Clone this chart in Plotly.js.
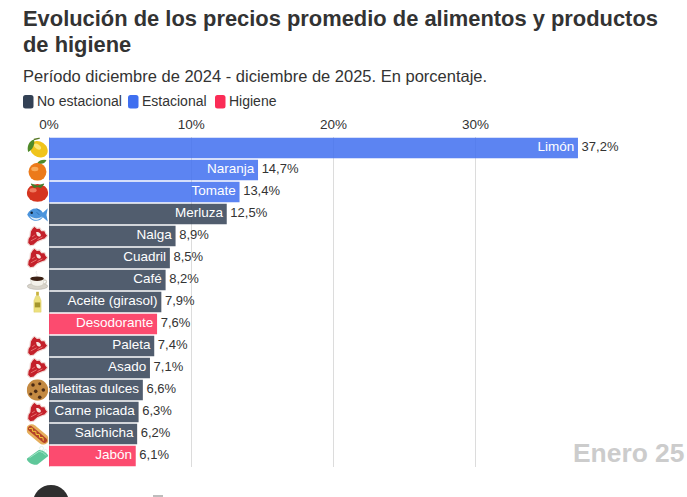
<!DOCTYPE html>
<html><head><meta charset="utf-8">
<script src="https://cdn.plot.ly/plotly-3.0.1.min.js"></script>
<style>html,body{margin:0;padding:0;background:#fff}#c{width:687px;height:497px}</style>
</head><body><div id="c"></div>
<script>
const products = ["Limón","Naranja","Tomate","Merluza","Nalga","Cuadril","Café","Aceite (girasol)","Desodorante","Paleta","Asado","Galletitas dulces","Carne picada","Salchicha","Jabón"];
const changes = [37.2,14.7,13.4,12.5,8.9,8.5,8.2,7.9,7.6,7.4,7.1,6.6,6.3,6.2,6.1];
const groups = ["Estacional","Estacional","Estacional","No estacional","No estacional","No estacional","No estacional","No estacional","Higiene","No estacional","No estacional","No estacional","No estacional","No estacional","Higiene"];
const icons = ["lemon","orange","tomato","fish","meat","meat","coffee","oil","","meat","meat","cookie","meat","hotdog","soap"];
const groupNames = ["No estacional","Estacional","Higiene"];
const groupColors = ["#334155","#3f6ff0","#fb2c56"];
const xTicks = [0,10,20,30];

const FONT = "'Liberation Sans', Arial, sans-serif";
const W=687,H=497,L=49,R=17,T=137,B=30;
const PW=W-L-R, PH=H-T-B;

const svgs = {
 lemon:'<ellipse cx="27" cy="27" rx="21" ry="17" fill="#f0c41c" transform="rotate(35 27 27)"/><ellipse cx="24" cy="21" rx="9" ry="5" fill="#fbe678" transform="rotate(35 24 21)"/><path d="M16 5C4 9 0 21 3 33C13 28 19 16 16 5Z" fill="#4f8a28"/><path d="M16 5L29 2" stroke="#5a7a28" stroke-width="3"/>',
 orange:'<circle cx="24" cy="28" r="20" fill="#ec7a1a"/><ellipse cx="18" cy="22" rx="8" ry="5" fill="#f8ab5a"/><path d="M24 8C28 2 36 0 44 2C40 10 32 12 24 8Z" fill="#4e8a2c"/>',
 tomato:'<ellipse cx="24" cy="26" rx="24" ry="20" fill="#d5341f"/><ellipse cx="14" cy="20" rx="8" ry="5" fill="#ee7b5f"/><path d="M10 6L24 11L38 6L32 14L24 12L16 14Z" fill="#3f7d2a" stroke="#3f7d2a" stroke-width="2"/>',
 fish:'<path d="M1 25C9 8 28 8 36 21L47 11L44 26L47 41L36 31C28 43 9 42 1 25Z" fill="#4b94dc"/><path d="M6 28C14 35 28 35 35 29C28 41 12 40 6 28Z" fill="#dcebf7"/><circle cx="11" cy="21" r="2.8" fill="#123"/><path d="M22 12L30 18M22 20L28 26" stroke="#2b6cb0" stroke-width="2"/>',
 meat:'<path d="M17 2L23 7L29 6L33 12L40 12L43 19L47 23L41 30L33 33L24 37L16 44L8 46L2 40L3 30L7 24L8 14L12 7Z" fill="#c4202a" stroke="#f1d9d5" stroke-width="2.5"/><path d="M21 15C27 14 33 19 31 24C27 27 21 24 21 15Z" fill="#f8e8e3"/><path d="M9 35L22 28M12 26L18 22M24 32L35 26" stroke="#e87a78" stroke-width="2"/>',
 coffee:'<ellipse cx="24" cy="38" rx="23" ry="7" fill="#d8d4cb" stroke="#a5a197"/><path d="M8 20H38V32C36 40 12 40 10 32Z" fill="#f3f1ea" stroke="#bcb8ac"/><ellipse cx="23" cy="21" rx="15" ry="5" fill="#3c2115"/><path d="M38 24C47 23 46 33 36 33" fill="none" stroke="#d5d1c6" stroke-width="3"/><path d="M22 4C18 8 26 10 22 15" stroke="#e4e4e4" fill="none" stroke-width="2"/>',
 oil:'<rect x="21" y="1" width="6" height="9" fill="#c8b23c"/><path d="M20 11H28L32 21V47H16V21Z" fill="#ece07e" stroke="#d9c95c"/><rect x="18" y="25" width="12" height="11" fill="#a4962e"/>',
 cookie:'<circle cx="24" cy="24" r="24" fill="#c48a42"/><circle cx="14" cy="13" r="4" fill="#4a2a14"/><circle cx="29" cy="10" r="3.5" fill="#4a2a14"/><circle cx="37" cy="24" r="4" fill="#4a2a14"/><circle cx="20" cy="27" r="4" fill="#4a2a14"/><circle cx="9" cy="33" r="3.5" fill="#4a2a14"/><circle cx="29" cy="40" r="4" fill="#4a2a14"/>',
 hotdog:'<rect x="-5" y="13" width="58" height="24" rx="12" fill="#e6ae5c" transform="rotate(40 24 25)"/><rect x="-2" y="19" width="52" height="12" rx="6" fill="#b5432a" transform="rotate(40 24 25)"/><path d="M5 12L12 11L13 18L20 18L21 25L28 25L29 32L36 32L37 39" fill="none" stroke="#f4cf3b" stroke-width="2.2"/>',
 soap:'<path d="M0 30L26 11C33 8 46 17 48 24L24 43C15 46 1 38 0 30Z" fill="#5fc79a"/><path d="M6 28L27 14C31 13 40 18 43 23" fill="none" stroke="#a8e8cb" stroke-width="2"/><circle cx="33" cy="7" r="4.5" fill="none" stroke="#bfe9d6"/><circle cx="42" cy="13" r="3.5" fill="none" stroke="#bfe9d6"/>'
};
const uri = k => "data:image/svg+xml;charset=utf-8," + encodeURIComponent('<svg xmlns="http://www.w3.org/2000/svg" viewBox="0 0 48 48" width="96" height="96">'+svgs[k]+'</svg>');
const fmt = v => v.toFixed(1).replace('.',',') + '%';

const traces = groupNames.map((g,gi)=>{
  const idx = products.map((_,i)=>i).filter(i=>groups[i]===g);
  return {type:'bar',orientation:'h',name:g,showlegend:false,
    x:idx.map(i=>changes[i]),y:idx.map(i=>products[i]),
    marker:{color:groupColors[gi],opacity:0.85},hoverinfo:'x+y'};
});
traces.push({type:'scatter',mode:'text',showlegend:false,x:changes,y:products,
  text:products.map(p=>p+'\u00a0'),textposition:'middle left',cliponaxis:true,
  textfont:{family:FONT,size:13.5,color:'#fff'},hoverinfo:'skip'});
traces.push({type:'scatter',mode:'text',showlegend:false,x:changes,y:products,
  text:changes.map(v=>' '+fmt(v)),textposition:'middle right',cliponaxis:false,
  textfont:{family:FONT,size:13,color:'#333'},hoverinfo:'skip'});

const images = icons.map((k,i)=>k?({source:uri(k),xref:'paper',yref:'paper',
  x:(37.5-L)/PW,y:1-(i+0.5)/products.length,sizex:21.5/PW,sizey:21.5/PH,xanchor:'center',yanchor:'middle',sizing:'contain',layer:'above'}):null).filter(Boolean);

const legendX=[23,128,215];
const toPX = x => (x-L)/PW, toPY = y => 1-(y-T)/PH;
const shapes = groupNames.map((g,i)=>{
  const x0=legendX[i],x1=x0+10.5,y0=95,y1=108.5,r=2.5;
  return {type:'path',xref:'paper',yref:'paper',fillcolor:groupColors[i],line:{width:0},
   path:`M${toPX(x0+r)} ${toPY(y0)}L${toPX(x1-r)} ${toPY(y0)}Q${toPX(x1)} ${toPY(y0)} ${toPX(x1)} ${toPY(y0+r)}L${toPX(x1)} ${toPY(y1-r)}Q${toPX(x1)} ${toPY(y1)} ${toPX(x1-r)} ${toPY(y1)}L${toPX(x0+r)} ${toPY(y1)}Q${toPX(x0)} ${toPY(y1)} ${toPX(x0)} ${toPY(y1-r)}L${toPX(x0)} ${toPY(y0+r)}Q${toPX(x0)} ${toPY(y0)} ${toPX(x0+r)} ${toPY(y0)}Z`};
});
shapes.push({type:'circle',xref:'paper',yref:'paper',x0:toPX(33),x1:toPX(69),y0:toPY(485),y1:toPY(521),fillcolor:'#2f2f2f',line:{width:0}});
shapes.push({type:'rect',xref:'paper',yref:'paper',x0:toPX(153),x1:toPX(163),y0:toPY(495),y1:toPY(497),fillcolor:'#bdbdbd',line:{width:0}});

const note = (text,x,y,size,color,extra={}) => Object.assign({text,xref:'paper',yref:'paper',x:toPX(x),y:toPY(y),xanchor:'left',yanchor:'middle',
  showarrow:false,align:'left',font:{family:FONT,size,color}},extra);
const annotations = [
  note('<b>Evolución de los precios promedio de alimentos y productos</b>',23,19,21.9,'#333',{xshift:-2}),
  note('<b>de higiene</b>',23,44,21.9,'#333',{xshift:-2}),
  note('Período diciembre de 2024 - diciembre de 2025. En porcentaje.',23,75.5,16.5,'#333',{xshift:-2}),
  note('<b>Enero 25</b>',686,453,26.4,'#cccccc',{xanchor:'right'}),
  ...groupNames.map((g,i)=>note(g,legendX[i]+14,101.5,14,'#333',{xshift:-2}))
];

const layout = {
  width:W,height:H,paper_bgcolor:'#fff',plot_bgcolor:'#fff',
  margin:{l:L,r:R,t:T,b:B,pad:0},showlegend:false,barmode:'overlay',bargap:0.07,
  xaxis:{side:'top',range:[0,PW/14.22],tickmode:'array',tickvals:xTicks,ticktext:xTicks.map(v=>v+'%'),
    showgrid:true,gridcolor:'#dcdcdc',gridwidth:1,zeroline:true,zerolinecolor:'#dcdcdc',zerolinewidth:1,
    showline:false,ticks:'',ticklabelstandoff:4,tickfont:{family:FONT,size:13.5,color:'#333'},fixedrange:true},
  yaxis:{type:'category',categoryorder:'array',categoryarray:products,autorange:false,range:[products.length-0.5,-0.5],
    showticklabels:false,showgrid:false,zeroline:false,showline:false,ticks:'',fixedrange:true},
  images,shapes,annotations
};
Plotly.newPlot('c',traces,layout,{displayModeBar:false,staticPlot:true});
</script></body></html>
